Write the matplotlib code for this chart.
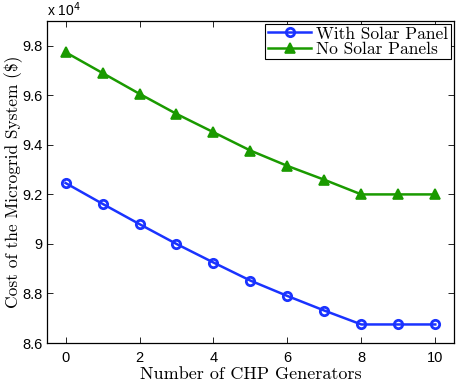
import matplotlib
matplotlib.use("Agg")
import matplotlib.pyplot as plt

chp = [0, 1, 2, 3, 4, 5, 6, 7, 8, 9, 10]
with_solar = [9.246, 9.162, 9.080, 9.000, 8.925, 8.852, 8.790, 8.731, 8.675, 8.675, 8.675]
no_solar = [9.774, 9.690, 9.606, 9.525, 9.451, 9.377, 9.315, 9.259, 9.200, 9.200, 9.200]

x_ticks = [0, 2, 4, 6, 8, 10]
y_ticks = [8.6, 8.8, 9.0, 9.2, 9.4, 9.6, 9.8]
y_labels = ["8.6", "8.8", "9", "9.2", "9.4", "9.6", "9.8"]

blue = "#1a33ff"
green = "#1a9a00"
serif = "cmr10"

fig = plt.figure(figsize=(4.57, 3.82), dpi=100)
ax = fig.add_axes([0.103, 0.102, 0.890, 0.843])

ax.plot(chp, with_solar, color=blue, lw=1.8, marker="o", ms=6, mfc="none", mew=2,
        label="With Solar Panel")
ax.plot(chp, no_solar, color=green, lw=1.8, marker="^", ms=7.5, mfc=green, mew=1.2,
        label="No Solar Panels")

ax.set_xlim(-0.5, 10.5)
ax.set_ylim(8.6, 9.9)
ax.set_xticks(x_ticks)
ax.set_yticks(y_ticks)
ax.set_yticklabels(y_labels)
ax.tick_params(direction="in", top=True, right=True, labelsize=10.5, length=4, width=0.6)
ax.tick_params(axis="x", pad=6)
ax.tick_params(axis="y", pad=3)
for lab in ax.get_xticklabels() + ax.get_yticklabels():
    lab.set_family("Liberation Sans")
for s in ax.spines.values():
    s.set_linewidth(0.9)

ax.set_xlabel("Number of CHP Generators", family=serif, fontsize=13, labelpad=1)
ax.set_ylabel("Cost of the Microgrid System (\\$)", family=serif, fontsize=12.5)
ax.yaxis.set_label_coords(-0.058, 0.5)

ax.text(0.0, 1.006, r"x 10$^{4}$", transform=ax.transAxes, family="Liberation Sans",
        fontsize=10, va="bottom", ha="left")

leg = ax.legend(loc="upper right", prop={"family": serif, "size": 12.5}, fancybox=False,
                framealpha=1, edgecolor="black", borderpad=0.15, labelspacing=0.0,
                handlelength=2.5, handletextpad=0.3, borderaxespad=0.15)
leg.get_frame().set_linewidth(0.8)

fig.savefig("out.png", dpi=100)
